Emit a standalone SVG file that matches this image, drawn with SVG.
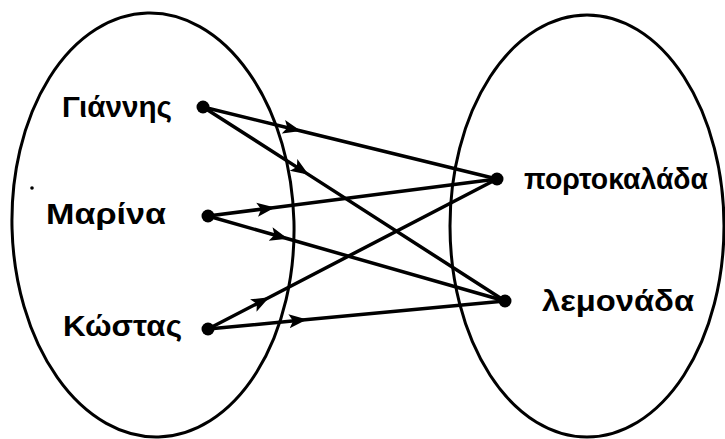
<svg xmlns="http://www.w3.org/2000/svg" width="725" height="439" viewBox="0 0 725 439">
  <style>
    .set { fill: none; stroke: #000; stroke-width: 3; }
    .dot { fill: #000; }
    .lbl { font-family: "Liberation Sans", "DejaVu Sans", sans-serif; font-weight: bold; font-size: 30px; fill: #000; }
    .edge { fill: none; stroke: #000; stroke-width: 3.5; stroke-linecap: round; marker-mid: url(#arrow); }
  </style>
  <defs>
    <marker id="arrow" markerUnits="userSpaceOnUse" markerWidth="20" markerHeight="16" refX="16" refY="8" orient="auto" viewBox="0 0 20 16">
      <path d="M0,1 L18,8 L0,15 L4,8 z" fill="#000"/>
    </marker>
  </defs>
  <rect x="0" y="0" width="725" height="439" fill="#fff"/>

  <g id="set-people">
    <ellipse class="set" cx="153" cy="225" rx="141" ry="212" transform="rotate(-1.5 153 225)"/>
    <circle cx="32" cy="188" r="1.8" fill="#000"/>
  </g>
  <g id="set-drinks">
    <ellipse class="set" cx="587" cy="226" rx="137" ry="211"/>
  </g>

  <g id="connectors">
    <path class="edge" d="M203,107 L299,130.5 L497,179"/>
    <path class="edge" d="M203,107 L307,173.6 L505,301"/>
    <path class="edge" d="M208,216 L273,207.7 L497,179"/>
    <path class="edge" d="M208,216 L286,238.3 L505,301"/>
    <path class="edge" d="M208,329 L267.5,298.2 L497,179"/>
    <path class="edge" d="M208,329 L305,319.8 L505,301"/>
  </g>

  <g id="node-giannis">
    <circle class="dot" cx="203" cy="107" r="6.5"/>
    <text class="lbl" x="62" y="117" textLength="110" lengthAdjust="spacingAndGlyphs">Γιάννης</text>
  </g>
  <g id="node-marina">
    <circle class="dot" cx="208" cy="216" r="6.5"/>
    <text class="lbl" x="46" y="224" textLength="120" lengthAdjust="spacingAndGlyphs">Μαρίνα</text>
  </g>
  <g id="node-kostas">
    <circle class="dot" cx="208" cy="329" r="6.5"/>
    <text class="lbl" x="63" y="336" textLength="119" lengthAdjust="spacingAndGlyphs">Κώστας</text>
  </g>
  <g id="node-portokalada">
    <circle class="dot" cx="497" cy="179" r="6.5"/>
    <text class="lbl" x="524" y="189" textLength="184" lengthAdjust="spacingAndGlyphs">πορτοκαλάδα</text>
  </g>
  <g id="node-lemonada">
    <circle class="dot" cx="505" cy="301" r="6.5"/>
    <text class="lbl" x="542" y="311" textLength="152" lengthAdjust="spacingAndGlyphs">λεμονάδα</text>
  </g>
</svg>
